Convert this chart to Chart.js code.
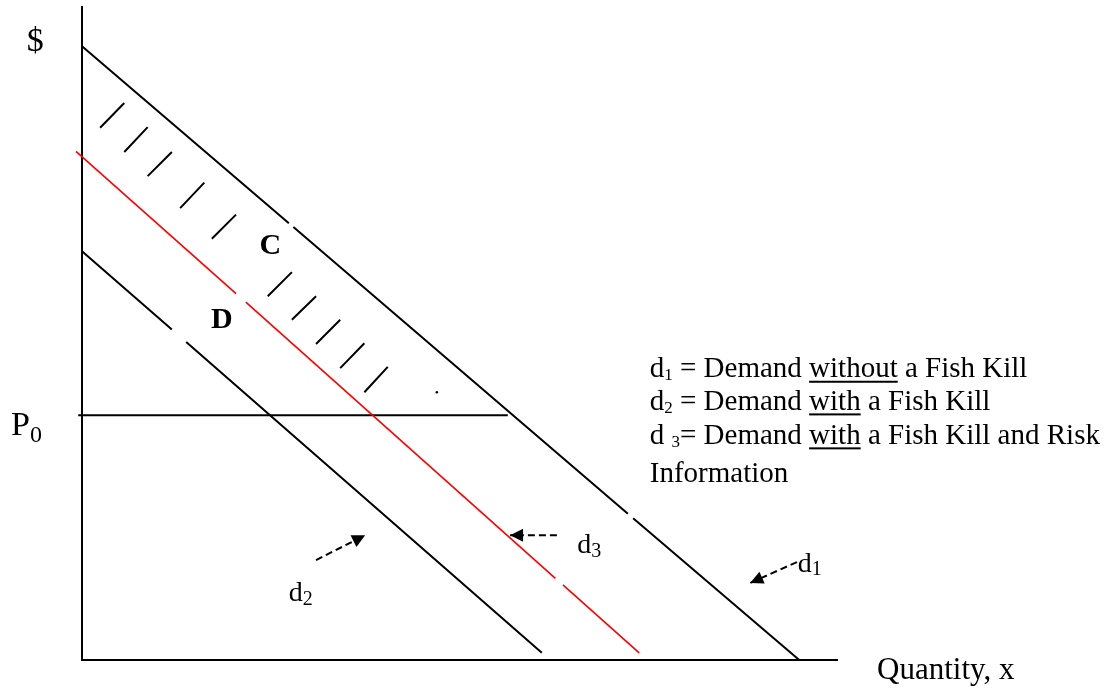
<!DOCTYPE html>
<html>
<head>
<meta charset="utf-8">
<script src="https://cdn.jsdelivr.net/npm/chart.js@4.4.1/dist/chart.umd.min.js"></script>
<style>
html,body{margin:0;padding:0;background:#fff;}
#wrap{width:1110px;height:691px;position:relative;}
canvas{display:block;}
</style>
</head>
<body>
<div id="wrap"><canvas id="c" width="1110" height="691"></canvas></div>
<script>
// ---------- data ----------
// demand curve d1 (null = short break in the line)
const d1X = [0, 27.4, null, 28.0, 72.3, null, 73.0, 95.0];
const d1Y = [94.0, 66.9, null, 66.3, 22.4, null, 21.7, 0];
// demand curve d2
const d2X = [0, 11.9, null, 13.8, 60.9];
const d2Y = [62.6, 50.6, null, 48.7, 1.1];
// demand curve d3 (red)
const d3X = [-0.8, 20.4, null, 21.7, 62.7, null, 63.7, 73.8];
const d3Y = [77.9, 56.1, null, 54.8, 12.5, null, 11.5, 1.1];
// price line P0
const p0X = [-0.5, 56.4];
const p0Y = [37.5, 37.5];
// hatch strokes of area C (start and end of each stroke)
const hatchX1 = [2.4, 5.6, 8.7, 13.0, 17.2, 24.6, 27.8, 31.0, 34.2, 37.4];
const hatchY1 = [81.5, 77.8, 74.1, 69.2, 64.5, 55.7, 52.1, 48.4, 44.7, 41.0];
const hatchX2 = [5.6, 8.7, 11.9, 16.2, 20.4, 27.8, 31.0, 34.2, 37.4, 40.5];
const hatchY2 = [85.3, 81.6, 77.8, 73.1, 68.2, 59.4, 55.7, 52.1, 48.5, 44.9];
// stray dot
const dotX = [47.0];
const dotY = [41.0];
// dashed label arrows (d2, d3, d1): tail -> tip
const arrowTailX = [31.0, 62.9, 94.7];
const arrowTailY = [15.3, 19.1, 15.0];
const arrowTipX  = [37.5, 56.7, 88.5];
const arrowTipY  = [19.1, 19.1, 11.8];

// ---------- texts ----------
const FAMILY = '"Liberation Serif", "Times New Roman", serif';
const legendLines = [
  [{t:'d'},{t:'1',sub:true},{t:' = Demand '},{t:'without',u:true},{t:' a Fish Kill'}],
  [{t:'d'},{t:'2',sub:true},{t:' = Demand '},{t:'with',u:true},{t:' a Fish Kill'}],
  [{t:'d '},{t:'3',sub:true},{t:'= Demand '},{t:'with',u:true},{t:' a Fish Kill and Risk'}],
  [{t:'Information'}]
];
const legendAnchorX = 75.2;
const legendAnchorY = [43.3, 38.3, 33.1, 27.3];

const textItems = [
  {runs:[{t:'$'}], x:-6.2, y:93.3, size:34, align:'center'},
  {runs:[{t:'P'},{t:'0',sub:true}], x:-9.4, y:34.5, size:34, subSize:24, subDy:7},
  {runs:[{t:'C'}], x:23.5, y:62.1, size:30, bold:true},
  {runs:[{t:'D'}], x:17.1, y:50.8, size:30, bold:true},
  {runs:[{t:'Quantity, x'}], x:105.3, y:-2.9, size:31},
  {runs:[{t:'d'},{t:'2',sub:true}], x:27.4, y:9.0, size:28, subSize:20, subDy:4},
  {runs:[{t:'d'},{t:'3',sub:true}], x:65.6, y:16.4, size:28, subSize:20, subDy:4},
  {runs:[{t:'d'},{t:'1',sub:true}], x:94.8, y:13.5, size:28, subSize:20, subDy:3}
];

// ---------- helpers ----------
function pts(xs, ys){ return xs.map((x,i)=>({x:x, y:ys[i]})); }
function hatchPts(){
  const out = [];
  hatchX1.forEach((x,i)=>{
    out.push({x:x, y:hatchY1[i]});
    out.push({x:hatchX2[i], y:hatchY2[i]});
    out.push({x:hatchX2[i], y:null});
  });
  return out;
}
function arrowPts(){
  const out = [];
  arrowTailX.forEach((x,i)=>{
    out.push({x:x, y:arrowTailY[i]});
    out.push({x:arrowTipX[i], y:arrowTipY[i]});
    out.push({x:arrowTipX[i], y:null});
  });
  return out;
}

function drawRuns(ctx, runs, x0, y0, o){
  let cx = x0;
  if (o.align === 'center'){
    let w = 0;
    runs.forEach(r=>{ ctx.font = (o.bold?'bold ':'') + (r.sub?o.subSize:o.size) + 'px ' + FAMILY; w += ctx.measureText(r.t).width; });
    cx = x0 - w/2;
  }
  runs.forEach(r=>{
    const size = r.sub ? o.subSize : o.size;
    ctx.font = (o.bold?'bold ':'') + size + 'px ' + FAMILY;
    const yy = y0 + (r.sub ? o.subDy : 0);
    ctx.fillText(r.t, cx, yy);
    const w = ctx.measureText(r.t).width;
    if (r.u){ ctx.fillRect(cx, y0 + 3.5, w, 2); }
    cx += w;
  });
}

const annotationPlugin = {
  id: 'annotations',
  afterDatasetsDraw(chart){
    const ctx = chart.ctx;
    const sx = chart.scales.x, sy = chart.scales.y;
    ctx.save();
    ctx.fillStyle = '#000';
    // arrowheads
    arrowTailX.forEach((tx,i)=>{
      const x0 = sx.getPixelForValue(tx), y0 = sy.getPixelForValue(arrowTailY[i]);
      const x1 = sx.getPixelForValue(arrowTipX[i]), y1 = sy.getPixelForValue(arrowTipY[i]);
      const a = Math.atan2(y1-y0, x1-x0);
      const L = 13, W = 6.5;
      const c = Math.cos(a), s = Math.sin(a);
      ctx.beginPath();
      ctx.moveTo(x1, y1);
      ctx.lineTo(x1 - L*c + W*s, y1 - L*s - W*c);
      ctx.lineTo(x1 - L*c - W*s, y1 - L*s + W*c);
      ctx.closePath();
      ctx.fill();
    });
    // texts
    ctx.textBaseline = 'alphabetic';
    ctx.textAlign = 'left';
    textItems.forEach(it=>{
      drawRuns(ctx, it.runs, sx.getPixelForValue(it.x), sy.getPixelForValue(it.y), it);
    });
    legendLines.forEach((runs,i)=>{
      drawRuns(ctx, runs, sx.getPixelForValue(legendAnchorX), sy.getPixelForValue(legendAnchorY[i]),
               {size:29, subSize:17, subDy:3});
    });
    ctx.restore();
  }
};

const lineDs = (label, data, color, width, extra) => Object.assign({
  label: label, data: data, showLine: true, borderColor: color, backgroundColor: color,
  borderWidth: width, pointRadius: 0, pointHoverRadius: 0, fill: false,
  spanGaps: false, clip: false, tension: 0
}, extra || {});

new Chart(document.getElementById('c'), {
  type: 'scatter',
  data: {
    datasets: [
      lineDs('d1', pts(d1X, d1Y), '#000000', 2),
      lineDs('d2', pts(d2X, d2Y), '#000000', 2),
      lineDs('d3', pts(d3X, d3Y), '#ff0000', 1.6),
      lineDs('P0', pts(p0X, p0Y), '#000000', 2),
      lineDs('C hatch', hatchPts(), '#000000', 2),
      lineDs('arrows', arrowPts(), '#000000', 2, {borderDash:[7,4]}),
      {label:'dot', data: pts(dotX, dotY), pointRadius: 1.3, pointBackgroundColor:'#000', pointBorderWidth:0, showLine:false, clip:false}
    ]
  },
  options: {
    responsive: false,
    animation: false,
    devicePixelRatio: 1,
    events: [],
    layout: { padding: { left: 82, right: 273, top: 7, bottom: 31 } },
    plugins: { legend: { display: false }, tooltip: { enabled: false } },
    scales: {
      x: {
        type: 'linear', min: 0, max: 100,
        grid: { display: false, drawTicks: false, tickLength: 0 },
        ticks: { display: false },
        border: { display: true, color: '#000', width: 2 }
      },
      y: {
        type: 'linear', min: 0, max: 100,
        grid: { display: false, drawTicks: false, tickLength: 0 },
        ticks: { display: false },
        border: { display: true, color: '#000', width: 2 }
      }
    }
  },
  plugins: [annotationPlugin]
});
</script>
</body>
</html>
